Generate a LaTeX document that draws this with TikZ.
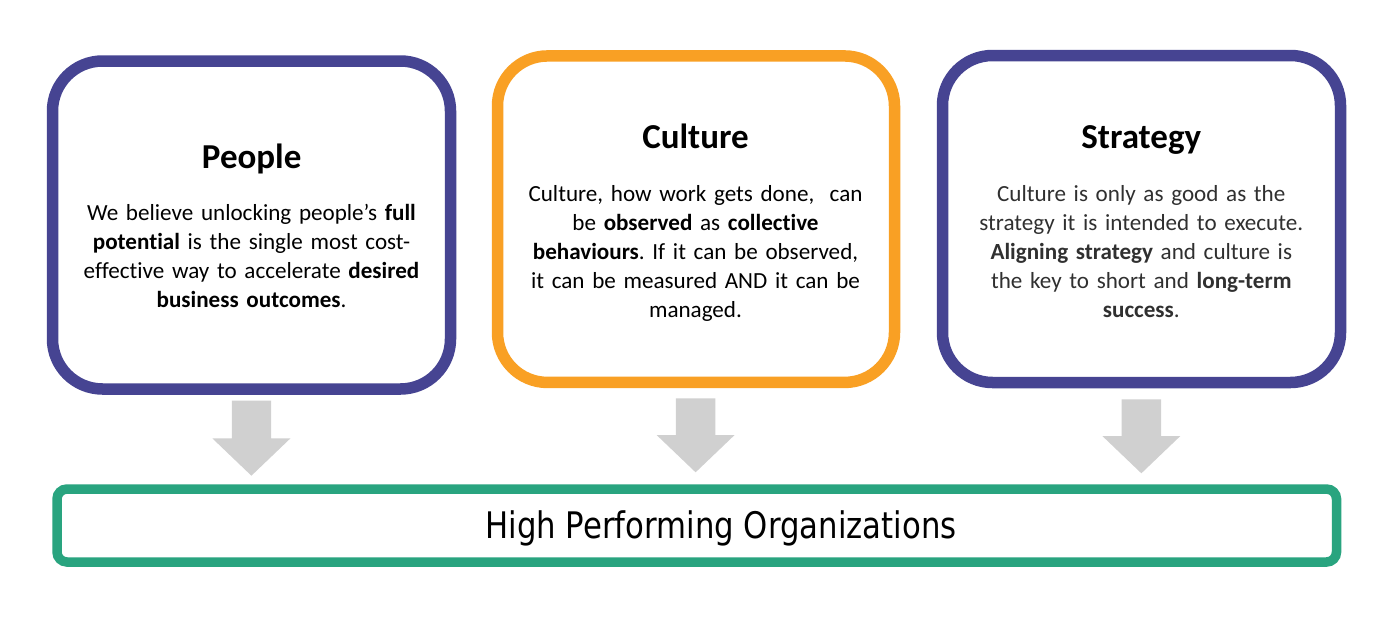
\documentclass[tikz,border=0pt]{standalone}
\usepackage{fontspec}
\usepackage{graphicx}
\setmainfont[RawFeature={-liga;-clig;-calt;-dlig}]{Carlito}
\newfontfamily\tahomalike{DejaVu Sans}
\usetikzlibrary{calc}
\definecolor{boxpurple}{RGB}{70,68,146}
\definecolor{boxorange}{RGB}{249,160,36}
\definecolor{boxgreen}{RGB}{41,164,127}
\definecolor{arrowgray}{RGB}{208,208,208}
\definecolor{strattext}{RGB}{48,48,48}
\pgfdeclarelayer{bg}
\pgfsetlayers{bg,main}
\frenchspacing
\newcommand\cardshadow[3]{%
  \begin{pgfonlayer}{bg}
  \foreach \e/\o in {0/0.12,1.5/0.08,3/0.05}{%
    \fill[black, opacity=\o, rounded corners=#2]
      ($(#1.north west)+(-#3+3-\e,-#3+4-\e)$) rectangle ($(#1.south east)+(#3+3+\e,#3+4+\e)$);
  }
  \end{pgfonlayer}}
\begin{document}
\begin{tikzpicture}[x=1pt,y=-1pt,
  card/.style={draw, line width=11.5pt, fill=white, rounded corners=50pt, inner sep=0pt, outer sep=0pt},
  cardtitle/.style={anchor=base, font=\fontsize{35}{42}\selectfont\bfseries, inner sep=0pt},
  cardbody/.style={anchor=base, font=\fontsize{23.1}{29}\selectfont, text width=400pt, align=center, inner sep=0pt},
  bigarrow/.style={fill=arrowgray, draw=none},
  goalbox/.style={draw=boxgreen, line width=9.5pt, fill=white, rounded corners=10pt, inner sep=0pt, outer sep=0pt}]
\useasboundingbox[fill=white] (0,0) rectangle (1397,632);

% cards
\node[card, draw=boxpurple, minimum width=398pt, minimum height=328pt] (people) at (251.5,225) {};
\node[card, draw=boxorange, minimum width=397pt, minimum height=326.5pt] (culture) at (696,219.2) {};
\node[card, draw=boxpurple, minimum width=398pt, minimum height=327pt] (strategy) at (1141.5,219) {};
\node[goalbox, minimum width=1279.5pt, minimum height=73pt] (hpo) at (696.75,525.5) {};

\cardshadow{people}{55pt}{5.75}
\cardshadow{culture}{55pt}{5.75}
\cardshadow{strategy}{55pt}{5.75}
\cardshadow{hpo}{14pt}{4.75}

% texts
\node[cardtitle] (ptitle) at (251.7,168.3) {People};
\node[cardbody] (pbody) at (251.5,220) {We believe unlocking people’s \textbf{full}\\
\textbf{potential} is the single most cost-\\
effective way to accelerate \textbf{desired}\\
\textbf{business outcomes}.};

\node[cardtitle] (ctitle) at (695.5,148.3) {Culture};
\node[cardbody] (cbody) at (695.5,201) {Culture, how work gets done, \ can\\
be \textbf{observed} as \textbf{collective}\\
\textbf{behaviours}. If it can be observed,\\
it can be measured AND it can be\\
managed.};

\node[cardtitle] (stitle) at (1141.3,148.3) {Strategy};
\node[cardbody, text=strattext] (sbody) at (1141.3,201) {Culture is only as good as the\\
strategy it is intended to execute.\\
\textbf{Aligning strategy} and culture is\\
the key to short and \textbf{long-term}\\
\textbf{success}.};

\node[anchor=base, inner sep=0pt, font=\tahomalike\fontsize{36.6}{44}\selectfont] (hpotext) at (721,538.3)
  {\scalebox{0.84}[1]{High Performing Organizations}};

% block arrows
\coordinate (pTop) at (251.4,400.7);
\coordinate (pTip) at (251.4,475.7);
\coordinate (cTop) at (695.6,398.3);
\coordinate (cTip) at (695.6,472.3);
\coordinate (sTop) at (1141.35,399.3);
\coordinate (sTip) at (1141.35,473.3);
\foreach \a in {p,c,s}{
  \fill[bigarrow] ($(\a Top)+(-19.65,0)$) -- ($(\a Top)+(19.65,0)$) -- ($(\a Tip)+(19.65,-37.3)$)
    -- ($(\a Tip)+(39,-37.3)$) -- (\a Tip) -- ($(\a Tip)+(-39,-37.3)$) -- ($(\a Tip)+(-19.65,-37.3)$) -- cycle;
}
\end{tikzpicture}
\end{document}
